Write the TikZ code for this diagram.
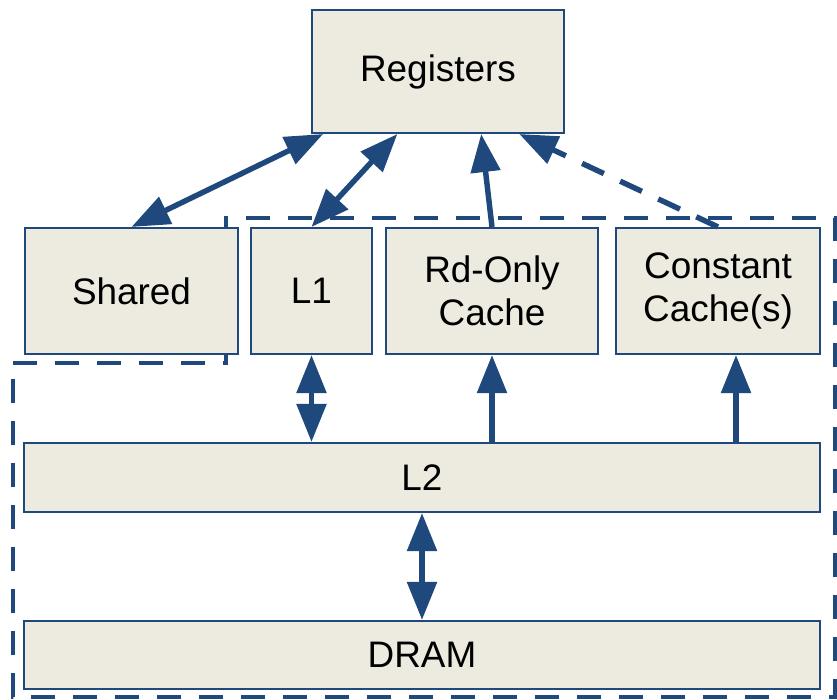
\documentclass[tikz,border=0pt]{standalone}
\usepackage{fontspec}
\setmainfont{Liberation Sans}
\usetikzlibrary{arrows.meta,positioning,calc}

\definecolor{memblue}{RGB}{31,73,125}
\definecolor{memfill}{RGB}{237,235,224}

\begin{document}
\begin{tikzpicture}[>={Triangle[length=0.76cm,width=0.58cm]},
	mem/.style={draw=memblue, line width=1.2pt, fill=memfill, inner sep=0pt, align=center, font=\fontsize{21}{24.5}\selectfont},
	link/.style={memblue, line width=3.1pt},
	region/.style={memblue, line width=2.6pt, dash pattern=on 0.48cm off 0.36cm}]
				\useasboundingbox (0,0) rectangle (16.74,14);
				
				% dashed region first, the boxes are filled over it
				\draw [region] (0.26,6.74) -- (4.52,6.74) -- (4.52,9.64) -- (16.70,9.64) -- (16.70,0.06) -- (0.26,0.06) -- cycle;
				
				\node [mem, minimum width=5.04cm, minimum height=2.46cm] (reg) at (8.76,12.57) {Registers};
				
				\node [mem, minimum width=4.26cm, minimum height=2.52cm] (shared) at (2.63,8.18) {Shared};
				\node [mem, minimum width=2.42cm, minimum height=2.52cm] (l1) at (6.23,8.18) {L1};
				\node [mem, minimum width=4.24cm, minimum height=2.52cm] (rdonly) at (9.84,8.18) {Rd-Only\\Cache};
				\node [mem, minimum width=4.08cm, minimum height=2.52cm] (const) at (14.36,8.18) {Constant\\Cache(s)};
				
				\node [mem, minimum width=15.92cm, minimum height=1.38cm] (l2) at (8.44,4.45) {L2};
				\node [mem, minimum width=15.92cm, minimum height=1.36cm] (dram) at (8.44,0.9) {DRAM};
				
				% % % % % % % % % % % % % % % % % % % % % % % % % %
				
				\draw [link, <->] (shared.north) -- ($(reg.south west)!0.048!(reg.south east)$);
				\draw [link, <->] (l1.north) -- ($(reg.south west)!0.34!(reg.south east)$);
				\draw [link, ->] (rdonly.north) -- ($(reg.south west)!0.67!(reg.south east)$);
				\draw [link, ->, dash pattern=on 0.48cm off 0.36cm] (const.north) -- ($(reg.south west)!0.82!(reg.south east)$);
				
				\coordinate (cin) at ([xshift=0.36cm]const.south);
				\draw [link, <->] (l1.south) -- (l1.south |- l2.north);
				\draw [link, ->] (rdonly.south |- l2.north) -- (rdonly.south);
				\draw [link, ->] (cin |- l2.north) -- (cin);
				\draw [link, <->] (l2.south) -- (dram.north);
\end{tikzpicture}
\end{document}
